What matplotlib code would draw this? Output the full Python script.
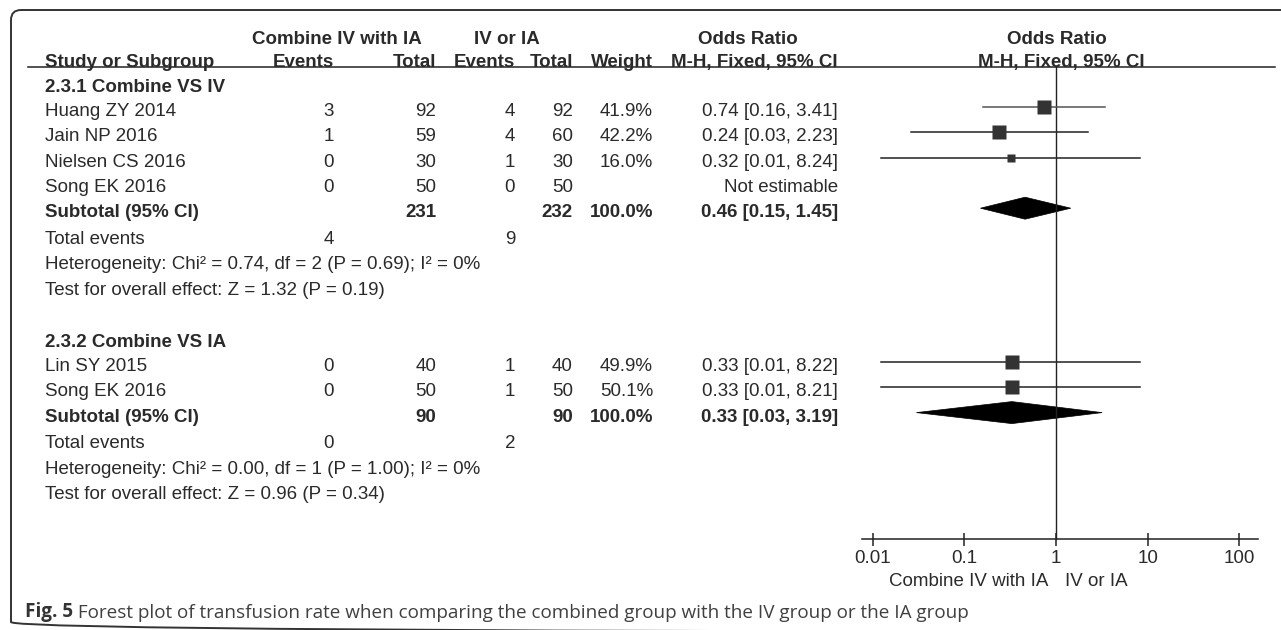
import matplotlib.pyplot as plt
from matplotlib.patches import FancyBboxPatch, Polygon

# ---- data ----
grp1_title = "2.3.1 Combine VS IV"
grp1_studies = ["Huang ZY 2014", "Jain NP 2016", "Nielsen CS 2016", "Song EK 2016"]
grp1_ev_comb = [3, 1, 0, 0]
grp1_n_comb = [92, 59, 30, 50]
grp1_ev_ctrl = [4, 4, 1, 0]
grp1_n_ctrl = [92, 60, 30, 50]
grp1_weight = [41.9, 42.2, 16.0, None]
grp1_or = [0.74, 0.24, 0.32, None]
grp1_lo = [0.16, 0.026, 0.0124, None]
grp1_hi = [3.41, 2.23, 8.24, None]
grp1_sub = (0.46, 0.15, 1.45)
grp1_sub_n = (231, 232)
grp1_tot_ev = (4, 9)
grp1_het = (0.74, 2, 0.69, 0)
grp1_z = (1.32, 0.19)

grp2_title = "2.3.2 Combine VS IA"
grp2_studies = ["Lin SY 2015", "Song EK 2016"]
grp2_ev_comb = [0, 0]
grp2_n_comb = [40, 50]
grp2_ev_ctrl = [1, 1]
grp2_n_ctrl = [40, 50]
grp2_weight = [49.9, 50.1]
grp2_or = [0.33, 0.33]
grp2_lo = [0.0124, 0.0124]
grp2_hi = [8.22, 8.21]
grp2_sub = (0.33, 0.03, 3.19)
grp2_sub_n = (90, 90)
grp2_tot_ev = (0, 2)
grp2_het = (0.00, 1, 1.00, 0)
grp2_z = (0.96, 0.34)

xticks = [0.01, 0.1, 1, 10, 100]
xtick_labels = ["0.01", "0.1", "1", "10", "100"]
favours = ("Combine IV with IA", "IV or IA")
caption_bold = "Fig. 5"
caption = " Forest plot of transfusion rate when comparing the combined group with the IV group or the IA group"

# ---- layout (pixels) ----
W, H = 1281, 630
TXT = '#2a2a2a'
FS = 13.5
FONT = 'Liberation Sans'
X_NAME, X_EV1, X_N1, X_EV2, X_N2, X_W, X_OR = 45, 334, 436, 515, 573, 653, 838
AX_Y = 539
PX = 0.72  # points per pixel at dpi 100

fig = plt.figure(figsize=(W / 100, H / 100), dpi=100)
bg = fig.add_axes([0, 0, 1, 1])
bg.set_xlim(0, W)
bg.set_ylim(H, 0)
bg.axis('off')

# forest axes: log x, y in pixel rows
x1, dec = 1056, 91.67
left_px, right_px = 862, 1258
fx = fig.add_axes([left_px / W, 0, (right_px - left_px) / W, 1])
fx.set_xscale('log')
fx.set_xlim(10 ** ((left_px - x1) / dec), 10 ** ((right_px - x1) / dec))
fx.set_ylim(H, 0)
fx.patch.set_visible(False)
for s in ['top', 'left', 'right']:
    fx.spines[s].set_visible(False)
fx.spines['bottom'].set_position(('data', AX_Y))
fx.spines['bottom'].set_linewidth(1.1)
fx.spines['bottom'].set_color('#222222')
fx.set_xticks(xticks)
fx.set_xticklabels(xtick_labels, fontsize=FS, family=FONT, color=TXT)
fx.xaxis.set_minor_locator(plt.NullLocator())
fx.tick_params(axis='x', direction='inout', length=13 * PX, width=1.1, pad=3, color='#222222')
fx.set_yticks([])


def txt(x, y, s, ha='left', bold=False):
    bg.text(x, y + 8, s, ha=ha, va='baseline', fontsize=FS, family=FONT,
            weight='bold' if bold else 'normal', color=TXT)


# frame with rounded top-left corner
bg.add_patch(FancyBboxPatch((11, 10), 1400, 622, boxstyle='round,pad=0,rounding_size=10',
                            fill=False, lw=1.4, ec='#333333', clip_on=False))

# header
txt(337, 36, "Combine IV with IA", 'center', True)
txt(507, 36, "IV or IA", 'center', True)
txt(748, 36, "Odds Ratio", 'center', True)
txt(1057, 36, "Odds Ratio", 'center', True)
txt(X_NAME, 59, "Study or Subgroup", bold=True)
txt(X_EV1, 59, "Events", 'right', True)
txt(X_N1, 59, "Total", 'right', True)
txt(X_EV2, 59, "Events", 'right', True)
txt(X_N2, 59, "Total", 'right', True)
txt(X_W, 59, "Weight", 'right', True)
txt(X_OR, 59, "M-H, Fixed, 95% CI", 'right', True)
txt(1061, 59, "M-H, Fixed, 95% CI", 'center', True)
bg.plot([28, 1275], [67, 67], color='#222222', lw=1.1)

fx.plot([1, 1], [67, AX_Y], color='#222222', lw=1.0)


def ci_text(o, l, h):
    return f"{o:.2f} [{l:.2f}, {h:.2f}]"


def draw_group(y0, title, studies, ev1, n1, ev2, n2, w, orr, lo, hi, sub, sub_n, tot_ev, het, z):
    step = 25.3
    txt(X_NAME, y0, title, bold=True)
    y = y0 + 24
    for i in range(len(studies)):
        txt(X_NAME, y, studies[i])
        txt(X_EV1, y, str(ev1[i]), 'right')
        txt(X_N1, y, str(n1[i]), 'right')
        txt(X_EV2, y, str(ev2[i]), 'right')
        txt(X_N2, y, str(n2[i]), 'right')
        if orr[i] is None:
            txt(X_OR, y, "Not estimable", 'right')
        else:
            txt(X_W, y, f"{w[i]:.1f}%", 'right')
            txt(X_OR, y, ci_text(orr[i], lo[i], hi[i]), 'right')
            col = '#555555' if i == 0 and len(studies) > 2 else '#222222'
            fx.plot([lo[i], hi[i]], [y - 1, y - 1], color=col, lw=1.1)
            side = 2.3 * w[i] ** 0.5 - 1.5
            fx.plot([orr[i]], [y - 1], marker='s', ms=side * PX, color='#333333', mec='none')
        y += step
    txt(X_NAME, y, "Subtotal (95% CI)", bold=True)
    txt(X_N1, y, str(sub_n[0]), 'right', True)
    txt(X_N2, y, str(sub_n[1]), 'right', True)
    txt(X_W, y, "100.0%", 'right', True)
    txt(X_OR, y, ci_text(*sub), 'right', True)
    o, l, h = sub
    fx.add_patch(Polygon([(l, y - 1), (o, y - 12), (h, y - 1), (o, y + 10)],
                         closed=True, fc='black', ec='black', lw=0.5))
    y += step + 1.5
    txt(X_NAME, y, "Total events")
    txt(X_EV1, y, str(tot_ev[0]), 'right')
    txt(X_EV2, y, str(tot_ev[1]), 'right')
    y += step
    chi, df, p, i2 = het
    txt(X_NAME, y, f"Heterogeneity: Chi\u00b2 = {chi:.2f}, df = {df} (P = {p:.2f}); I\u00b2 = {i2}%")
    y += step
    txt(X_NAME, y, f"Test for overall effect: Z = {z[0]:.2f} (P = {z[1]:.2f})")


draw_group(84, grp1_title, grp1_studies, grp1_ev_comb, grp1_n_comb, grp1_ev_ctrl, grp1_n_ctrl,
           grp1_weight, grp1_or, grp1_lo, grp1_hi, grp1_sub, grp1_sub_n, grp1_tot_ev, grp1_het, grp1_z)
draw_group(339, grp2_title, grp2_studies, grp2_ev_comb, grp2_n_comb, grp2_ev_ctrl, grp2_n_ctrl,
           grp2_weight, grp2_or, grp2_lo, grp2_hi, grp2_sub, grp2_sub_n, grp2_tot_ev, grp2_het, grp2_z)

# favours labels under the axis
fx.annotate(favours[0], xy=(1, 582), xytext=(-8, 0), textcoords='offset pixels',
            ha='right', va='center', fontsize=FS, family=FONT, color=TXT)
fx.annotate(favours[1], xy=(1, 582), xytext=(9, 0), textcoords='offset pixels',
            ha='left', va='center', fontsize=FS, family=FONT, color=TXT)

# caption: scale the font so the line ends where it does in the original (~x=972)
c1 = bg.text(25, 622, caption_bold, ha='left', va='bottom', fontsize=12.2,
             family='Open Sans', weight='bold', color='#333333')
c2 = bg.annotate(caption, xy=(1, 0), xycoords=c1, ha='left', va='bottom', fontsize=12.2,
                 family='Open Sans', color='#404040')
fig.canvas.draw()
r = fig.canvas.get_renderer()
end = c2.get_window_extent(r).x1
k = (972 - 25) / (end - 25)
k = min(max(k, 0.9), 1.15)
c1.set_fontsize(12.2 * k)
c2.set_fontsize(12.2 * k)

fig.savefig('out.png', dpi=100)
